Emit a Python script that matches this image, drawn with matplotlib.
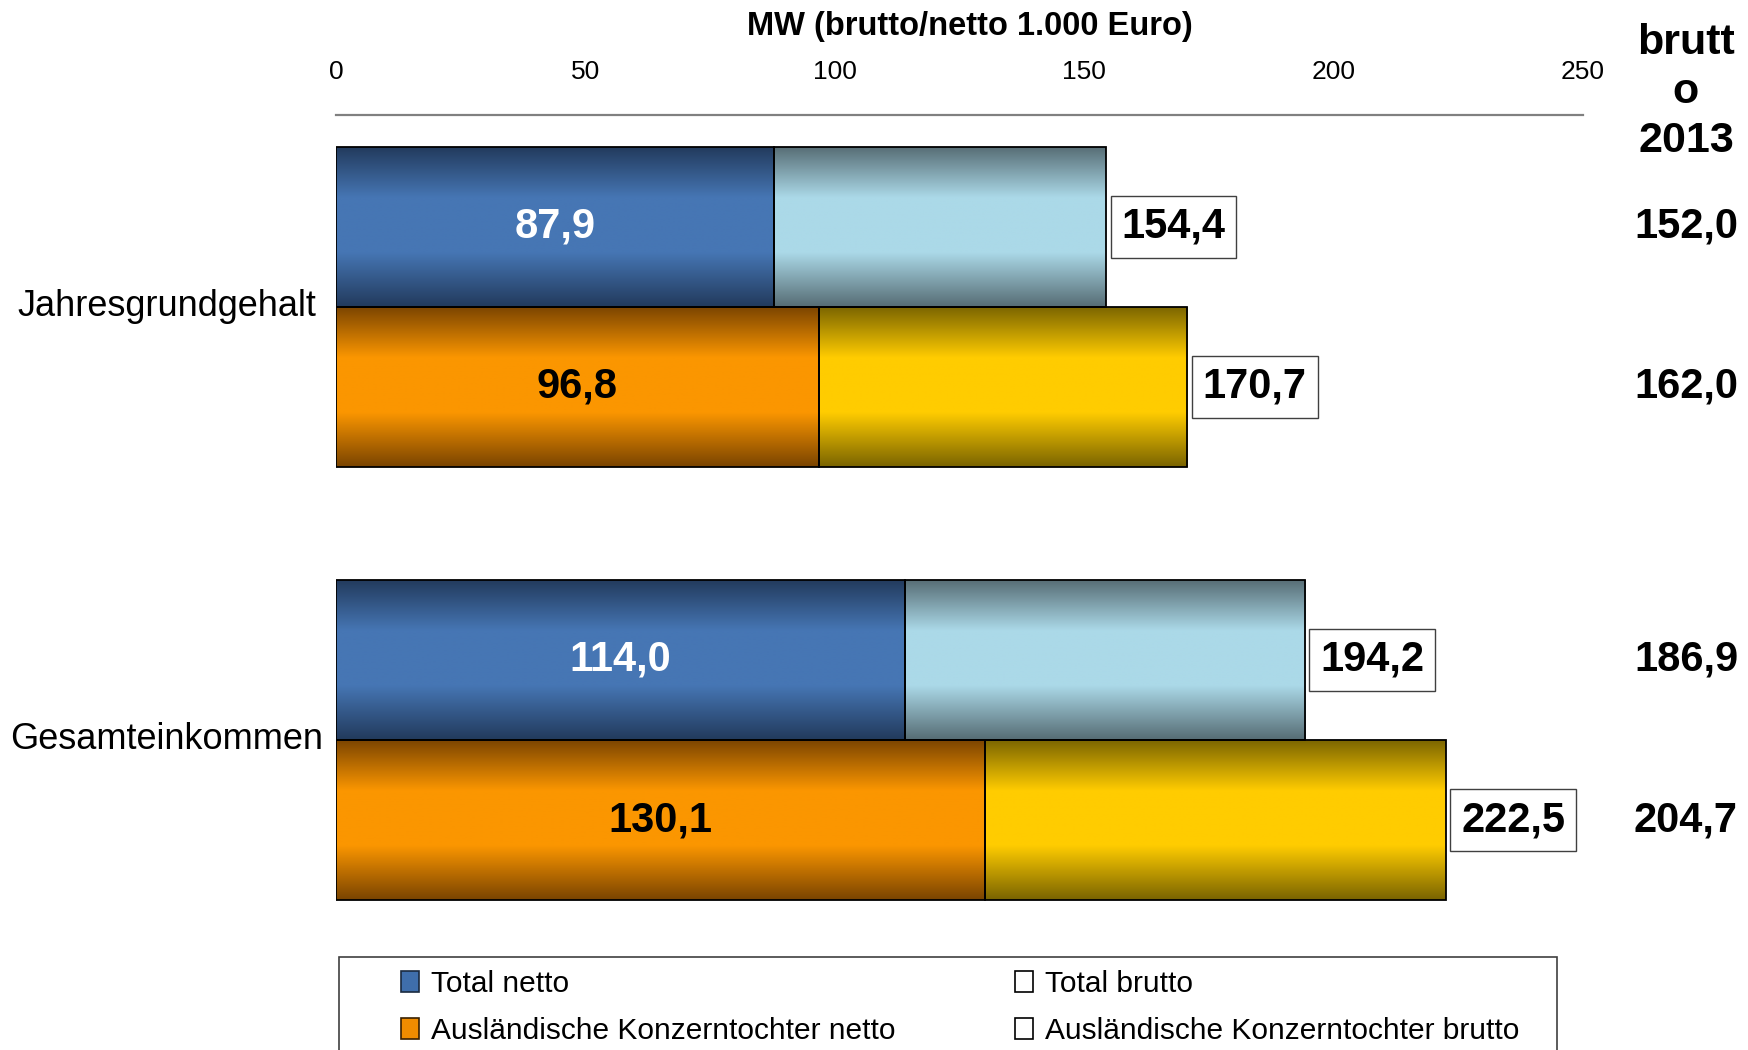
import numpy as np
import matplotlib
matplotlib.use('Agg')
import matplotlib.pyplot as plt
from matplotlib.colors import LinearSegmentedColormap
from matplotlib.patches import Patch, Rectangle
from matplotlib import transforms

# Data (1.000 Euro)
categories = ['Jahresgrundgehalt', 'Gesamteinkommen']
total_netto = [87.9, 114.0]
total_brutto = [154.4, 194.2]
ausl_netto = [96.8, 130.1]
ausl_brutto = [170.7, 222.5]
brutto_2013 = [152.0, 162.0, 186.9, 204.7]   # top to bottom, one per bar
x_ticks = [0, 50, 100, 150, 200, 250]

legend_labels = ['Total netto', 'Ausländische Konzerntochter netto',
                 'Total brutto', 'Ausländische Konzerntochter brutto']

FONT = ['Liberation Sans', 'DejaVu Sans']
plt.rcParams['font.family'] = FONT

W, H = 1749, 1050
BAR_H = 0.37
VAL_FS = 30

# gradient colours (dark edge, light middle)
C_NETTO = ('#223a5c', '#4676b4')
C_BRUTTO = ('#566c74', '#abd9e8')
C_ANETTO = ('#7a4400', '#fb9600')
C_ABRUTTO = ('#7a6400', '#ffcc00')


def fmt(v):
    return f'{v:.1f}'.replace('.', ',')


def gradient_fill(ax, rect, colors):
    """Fill a bar with a dark-light-dark vertical gradient."""
    x, y = rect.get_x(), rect.get_y()
    w, h = rect.get_width(), rect.get_height()
    t = np.linspace(0, 1, 256)
    prof = np.interp(t, [0, 0.32, 0.66, 1], [0, 1, 1, 0])
    cmap = LinearSegmentedColormap.from_list('g', list(colors))
    img = ax.imshow(prof.reshape(-1, 1), cmap=cmap, vmin=0, vmax=1,
                    extent=(x, x + w, y + h, y), aspect='auto',
                    interpolation='bilinear', zorder=1)
    img.set_clip_path(rect)


def main():
    fig = plt.figure(figsize=(W / 100, H / 100), dpi=100)
    ax = fig.add_axes([336 / W, 1 - 940 / H, (1583 - 336) / W, (940 - 115) / H])

    y = np.arange(len(categories))
    y_top = y - BAR_H / 2
    y_bot = y + BAR_H / 2

    def stacked(yy, netto, brutto, c1, c2):
        b1 = ax.barh(yy, netto, height=BAR_H, facecolor='none',
                     edgecolor='black', linewidth=1.3, zorder=2)
        widths = [b - n for b, n in zip(brutto, netto)]
        b2 = ax.barh(yy, widths, left=netto, height=BAR_H, facecolor='none',
                     edgecolor='black', linewidth=1.3, zorder=2)
        for r in b1:
            gradient_fill(ax, r, c1)
        for r in b2:
            gradient_fill(ax, r, c2)

    stacked(y_top, total_netto, total_brutto, C_NETTO, C_BRUTTO)
    stacked(y_bot, ausl_netto, ausl_brutto, C_ANETTO, C_ABRUTTO)

    # labels inside netto segments
    for yy, n, col in [(y_top, total_netto, 'white'), (y_bot, ausl_netto, 'black')]:
        for yi, v in zip(yy, n):
            ax.text(v / 2, yi, fmt(v), ha='center', va='center', fontsize=VAL_FS,
                    fontweight='bold', color=col, zorder=3)

    # boxed brutto labels
    for yy, b in [(y_top, total_brutto), (y_bot, ausl_brutto)]:
        for yi, v in zip(yy, b):
            ax.annotate(fmt(v), (v, yi), xytext=(11, 0), textcoords='offset points',
                        ha='left', va='center', fontsize=VAL_FS, fontweight='bold',
                        bbox=dict(boxstyle='square,pad=0.26', fc='white',
                                  ec='#404040', lw=1), zorder=3)

    # right column: brutto 2013
    trans = transforms.blended_transform_factory(fig.transFigure, ax.transData)
    bar_centres = [y_top[0], y_bot[0], y_top[1], y_bot[1]]
    for yi, v in zip(bar_centres, brutto_2013):
        ax.text(1686 / W, yi, fmt(v), transform=trans, ha='center', va='center',
                fontsize=VAL_FS, fontweight='bold', clip_on=False)
    fig.text(1686 / W, 1 - 92 / H, 'brutt\no\n2013', ha='center', va='center',
             fontsize=31, fontweight='bold', linespacing=1.28)

    # category labels
    for yi, c in zip(y, categories):
        ax.text(-0.136, yi, c, transform=ax.get_yaxis_transform(), ha='center',
                va='center', fontsize=26)

    ax.set_xlim(0, 250)
    ax.set_ylim(1.462, -0.443)
    ax.xaxis.set_ticks_position('top')
    ax.set_xticks(x_ticks)
    ax.set_xticklabels([str(t) for t in x_ticks])
    ax.tick_params(axis='x', length=0, pad=22, labelsize=19)
    ax.set_yticks([])
    for s in ['left', 'right', 'bottom']:
        ax.spines[s].set_visible(False)
    ax.spines['top'].set_color('#808080')
    ax.spines['top'].set_linewidth(1.6)

    fig.text(970 / W, 1 - 26 / H, 'MW (brutto/netto 1.000 Euro)', ha='center',
             va='center', fontsize=23.5, fontweight='bold')

    # legend: frame drawn separately, it runs off the bottom edge
    fig.add_artist(Rectangle((339 / W, -0.05), (1557 - 339) / W, 0.05 + 1 - 957 / H,
                             transform=fig.transFigure, fill=False,
                             edgecolor='#404040', linewidth=1.2))
    handles = [Patch(facecolor='#3f6eab', edgecolor='#1a2a40'),
               Patch(facecolor='#f08c00', edgecolor='#3a2000'),
               Patch(facecolor='white', edgecolor='black'),
               Patch(facecolor='white', edgecolor='black')]
    leg = ax.legend(handles, legend_labels, ncol=2, loc='upper left',
                    bbox_to_anchor=(401 / W, 1 - 970 / H),
                    bbox_transform=fig.transFigure, borderaxespad=0, borderpad=0,
                    fontsize=21.5, frameon=False,
                    handlelength=0.6, handleheight=0.7, handletextpad=0.4,
                    labelspacing=0.62, columnspacing=4.0)
    for h in leg.legend_handles:
        h.set_linewidth(1.2)

    fig.savefig('out.png', dpi=100)


if __name__ == '__main__':
    main()
